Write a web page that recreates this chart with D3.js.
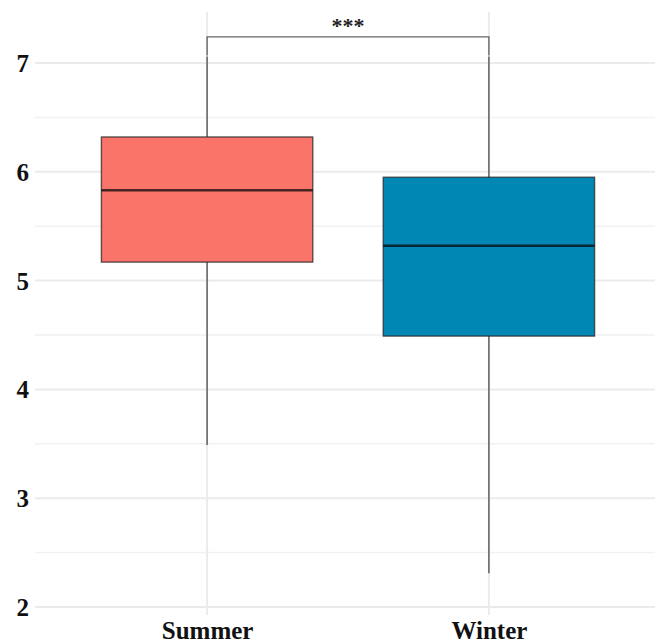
<!DOCTYPE html>
<html>
<head>
<meta charset="utf-8">
<script src="https://cdn.jsdelivr.net/npm/d3@7/dist/d3.min.js"></script>
<style>
  html, body { margin: 0; padding: 0; background: #fff; }
  svg { display: block; }
</style>
</head>
<body>
<svg id="chart" width="655" height="643"></svg>
<script>
// Seasons compared
const categories = ["Summer", "Winter"];
// Box-plot summary per season: lower whisker, Q1, median, Q3, upper whisker
const whiskerLow  = [3.49, 2.31];
const q1          = [5.17, 4.49];
const median      = [5.83, 5.32];
const q3          = [6.32, 5.95];
const whiskerHigh = [7.06, 7.06];
const fills       = ["#fb7469", "#0087b3"];
const yTicks      = [2, 3, 4, 5, 6, 7];
const yMinor      = [2.5, 3.5, 4.5, 5.5, 6.5];
const signifLabel = "***";
const bracketY    = 7.24;

const svg = d3.select("#chart");
const panel = { left: 38, right: 658, top: 12, bottom: 615 };

const x = d3.scalePoint().domain(categories).range([panel.left, panel.right]).padding(0.6);
const y = d3.scaleLinear().domain([2, 7]).range([607, 63]);
const boxW = x.step() * 0.75;

// grid
const grid = svg.append("g");
grid.selectAll(".minor").data(yMinor).join("line")
  .attr("x1", 35).attr("x2", 655)
  .attr("y1", d => y(d)).attr("y2", d => y(d))
  .attr("stroke", "#f1f1f1").attr("stroke-width", 1.5);
grid.selectAll(".major").data(yTicks).join("line")
  .attr("x1", 35).attr("x2", 655)
  .attr("y1", d => y(d)).attr("y2", d => y(d))
  .attr("stroke", "#ebebeb").attr("stroke-width", 2);
grid.selectAll(".vx").data(categories).join("line")
  .attr("x1", d => x(d)).attr("x2", d => x(d))
  .attr("y1", panel.top).attr("y2", panel.bottom)
  .attr("stroke", "#ebebeb").attr("stroke-width", 2);

// y axis labels
const yAxis = d3.axisLeft(y).tickValues(yTicks).tickSize(0).tickPadding(0).tickFormat(d3.format("d"));
const ya = svg.append("g").attr("transform", "translate(29,0)").call(yAxis);
ya.select(".domain").remove();
ya.selectAll("text")
  .attr("font-family", "'Liberation Serif', 'Times New Roman', serif")
  .attr("font-weight", "bold").attr("font-size", 25).attr("fill", "#111")
  .attr("dy", "0.34em");

// x axis labels
const xAxis = d3.axisBottom(x).tickSize(0).tickPadding(0);
const xa = svg.append("g").attr("transform", "translate(0,621)").call(xAxis);
xa.select(".domain").remove();
xa.selectAll("text")
  .attr("font-family", "'Liberation Serif', 'Times New Roman', serif")
  .attr("font-weight", "bold").attr("font-size", 25).attr("fill", "#111")
  .attr("dy", "0.72em");

// boxes
const data = categories.map((c, i) => ({
  c, lo: whiskerLow[i], q1: q1[i], med: median[i], q3: q3[i], hi: whiskerHigh[i], fill: fills[i]
}));
const g = svg.append("g");
g.selectAll(".whisk").data(data).join("line")
  .attr("x1", d => x(d.c)).attr("x2", d => x(d.c))
  .attr("y1", d => y(d.lo)).attr("y2", d => y(d.hi))
  .attr("stroke", "#555").attr("stroke-width", 1.4);
g.selectAll(".box").data(data).join("rect")
  .attr("x", d => x(d.c) - boxW / 2).attr("width", boxW)
  .attr("y", d => y(d.q3)).attr("height", d => y(d.q1) - y(d.q3))
  .attr("fill", d => d.fill)
  .attr("stroke", "rgba(40,40,40,0.75)").attr("stroke-width", 1.4);
g.selectAll(".med").data(data).join("line")
  .attr("x1", d => x(d.c) - boxW / 2).attr("x2", d => x(d.c) + boxW / 2)
  .attr("y1", d => y(d.med)).attr("y2", d => y(d.med))
  .attr("stroke", "rgba(10,10,10,0.75)").attr("stroke-width", 2.4);

// significance bracket
const bx0 = x(categories[0]), bx1 = x(categories[1]);
const by = y(bracketY);
svg.append("path")
  .attr("d", `M${bx0},${y(7.07)}V${by}H${bx1}V${y(7.07)}`)
  .attr("fill", "none").attr("stroke", "#666").attr("stroke-width", 1.4);
svg.append("text")
  .attr("x", (bx0 + bx1) / 2).attr("y", by - 4)
  .attr("text-anchor", "middle")
  .attr("font-family", "'Liberation Serif', 'Times New Roman', serif")
  .attr("font-weight", "bold").attr("font-size", 22).attr("fill", "#222")
  .text(signifLabel);
</script>
</body>
</html>
